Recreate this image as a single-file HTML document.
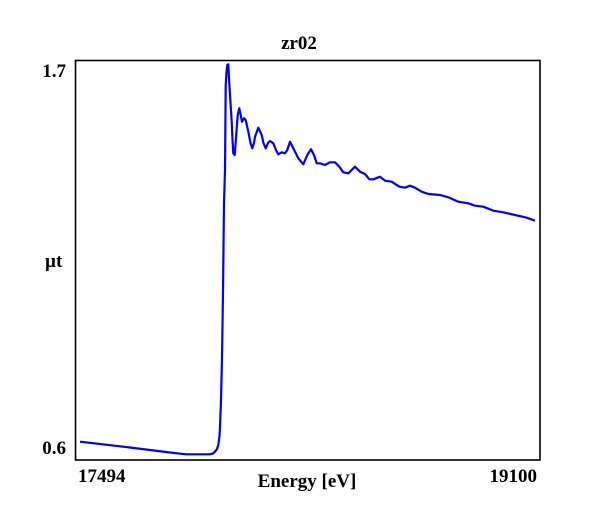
<!DOCTYPE html>
<html>
<head>
<meta charset="utf-8">
<style>
  html,body{margin:0;padding:0;background:#fff;}
  svg{display:block;}
  text{font-family:"Liberation Serif",serif;font-weight:bold;fill:#000;}
</style>
</head>
<body>
<svg width="600" height="520" viewBox="0 0 600 520" xmlns="http://www.w3.org/2000/svg">
  <rect x="0" y="0" width="600" height="520" fill="#fff"/>
  <text x="299" y="49" font-size="19" text-anchor="middle">zr02</text>
  <rect x="75.5" y="60.5" width="464.5" height="399.5" fill="none" stroke="#000" stroke-width="1.6"/>
  <polyline fill="none" stroke="#0000ff" stroke-width="2.2" stroke-linejoin="round" points="
80,441.7 120,446.3 150,450 170,452.5 186,454.3 210,454.3 213,453.5 215,451.7 217,449 218.3,445 219.5,436 220,426.7 221,400 222,358 223,291.7 224,203.3 225,170 225.3,135 225.7,85 226.5,72 227.3,65 228.3,64.3 229,78.3 230,95 231.7,121.7 232.5,140 233.3,153.3 234.7,155 236,138 237.7,115 239.3,108.3 240.7,115 242,121.7 244,118.3 245.7,120 248.3,131.7 250.5,143 252.3,148.3 254,143 255,136.7 258.3,127.7 261.7,135 263.5,143 265.7,148.3 268,143 270,141 273.3,143.3 276,150 278.3,154.3 281.7,152.3 285,153.3 287.3,150 290,141.7 293.3,148.3 298.3,158.3 303.3,164.3 307.3,155 311,149.3 314,155 316.7,163.3 320,163.3 325,165 330,162.3 335,162.3 339.3,166.7 343.3,172.3 348.3,173.3 355,166.7 360,171.7 365,174 369.3,179.3 373.3,179.3 380,176.7 385,180.7 391.7,181.7 399.3,186.7 405,187.7 410,185.7 415,187.7 421.7,191.7 428.3,194 440,195 448.3,197.3 458.3,201.7 468.3,203.3 475,205.7 483.3,206.7 493.3,210.7 503.3,212.3 515,215 526.7,217.7 535,220.7"/>
  <text x="66" y="77" font-size="19" text-anchor="end">1.7</text>
  <text x="66" y="454" font-size="19" text-anchor="end">0.6</text>
  <text x="45" y="267" font-size="19">µt</text>
  <text x="78" y="482" font-size="19">17494</text>
  <text x="537" y="482" font-size="19" text-anchor="end">19100</text>
  <text x="307" y="487" font-size="19" text-anchor="middle">Energy [eV]</text>
</svg>
</body>
</html>
